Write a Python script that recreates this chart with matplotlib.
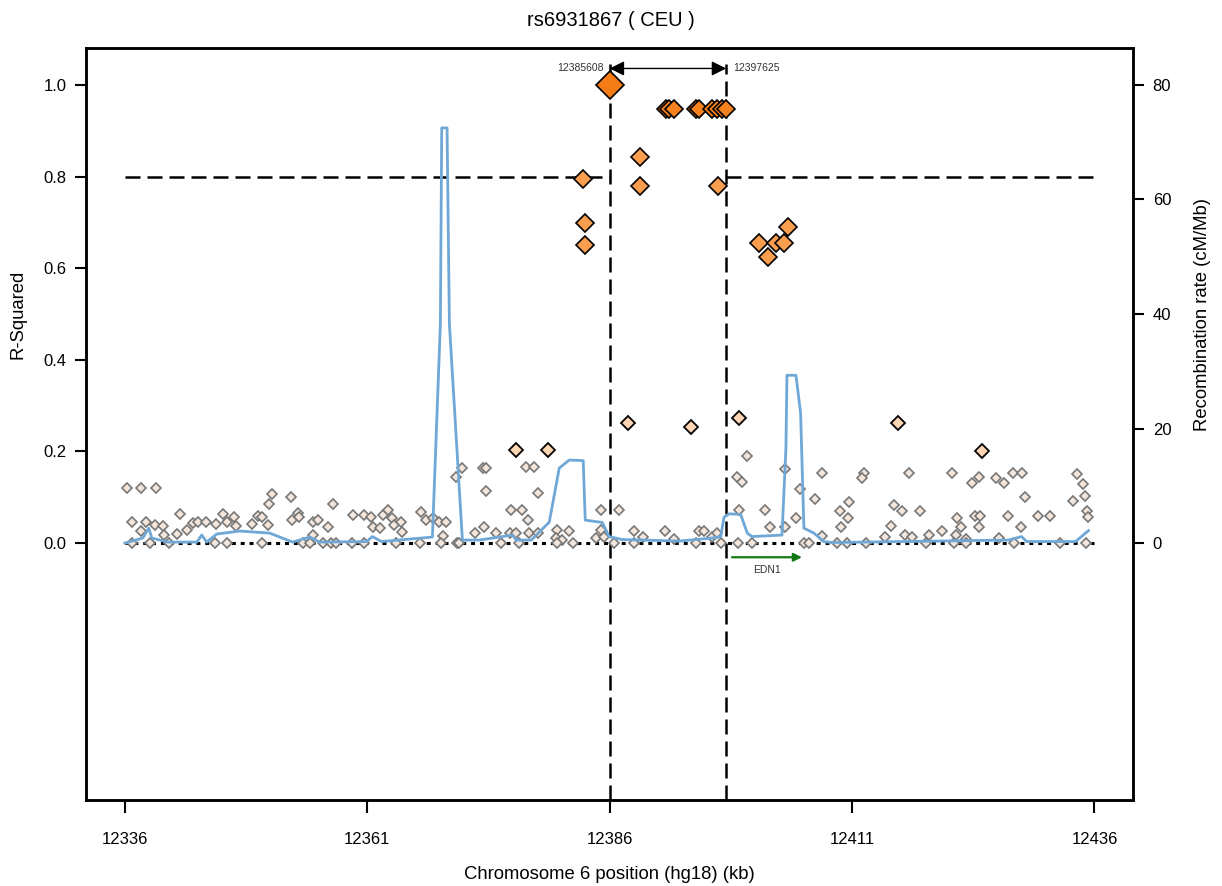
import matplotlib
matplotlib.use('Agg')
import matplotlib.pyplot as plt

plt.rcParams['font.family'] = ['Liberation Sans', 'DejaVu Sans']

# SNP positions (kb) and r-squared with the lead SNP
lead_pos = 12385.608
right_pos = 12397.625

low_x = [12335.8, 12337.3, 12338.8, 12336.3, 12337.8, 12338.7, 12339.5, 12337.3, 12339.7, 12341.3,
         12341.0, 12342.0, 12342.6, 12343.2, 12344.0, 12345.0, 12345.7, 12346.1, 12346.9, 12347.1,
         12348.7, 12349.3, 12349.8, 12350.4, 12350.5, 12350.8, 12352.7, 12352.9, 12353.5, 12353.6,
         12355.0, 12355.5, 12355.0, 12356.6, 12357.1, 12359.1, 12360.3, 12361.0, 12361.2, 12361.9,
         12362.2, 12362.7, 12363.2, 12363.4, 12364.1, 12364.2, 12366.2, 12366.7, 12367.4, 12368.0,
         12368.7, 12368.4, 12369.8, 12370.4, 12372.5, 12372.9, 12372.9, 12371.7, 12372.7, 12373.9,
         12375.4, 12376.6, 12377.2, 12377.0, 12377.8, 12378.2, 12375.3, 12376.0, 12377.3, 12378.2,
         12380.2, 12381.4, 12380.1, 12380.7, 12384.2, 12384.7, 12386.6, 12384.7, 12385.0, 12388.1,
         12389.0, 12391.3, 12392.2, 12394.8, 12395.3, 12396.2, 12396.7, 12398.9, 12399.8, 12398.7,
         12399.3, 12401.6, 12402.1, 12403.7, 12403.7, 12404.8, 12405.2, 12406.8, 12407.5, 12407.5,
         12409.4, 12410.2, 12410.3, 12409.5, 12411.8, 12411.6, 12414.0, 12414.6, 12414.9, 12415.8,
         12416.1, 12416.5, 12416.8, 12417.6, 12418.5, 12419.9, 12420.9, 12421.3, 12421.4, 12421.8,
         12422.4, 12423.0, 12423.7, 12423.3, 12423.8, 12423.7, 12425.5, 12425.8, 12426.3, 12426.7,
         12427.2, 12428.0, 12428.1, 12428.4, 12429.8, 12431.0, 12433.4, 12433.8, 12434.4, 12434.6,
         12434.8, 12434.9,
         12336.3, 12338.2, 12340.2, 12344.9, 12346.1, 12349.8, 12354.0, 12354.7, 12356.0, 12356.9,
         12357.4, 12359.0, 12360.3, 12363.6, 12366.0, 12368.2, 12369.9, 12370.1, 12374.4, 12376.3,
         12380.2, 12381.8, 12386.1, 12388.1, 12394.5, 12397.1, 12398.8, 12400.3, 12405.6, 12406.2,
         12409.1, 12410.1, 12412.0, 12418.2, 12421.1, 12422.4, 12427.3, 12432.1, 12434.7]
low_r2 = [0.120, 0.120, 0.120, 0.046, 0.046, 0.039, 0.037, 0.026, 0.017, 0.063,
          0.020, 0.028, 0.043, 0.046, 0.046, 0.041, 0.063, 0.045, 0.057, 0.037,
          0.041, 0.059, 0.057, 0.039, 0.086, 0.108, 0.100, 0.050, 0.065, 0.057,
          0.046, 0.050, 0.017, 0.036, 0.086, 0.061, 0.061, 0.057, 0.036, 0.032,
          0.061, 0.073, 0.054, 0.039, 0.046, 0.025, 0.068, 0.050, 0.054, 0.045,
          0.046, 0.016, 0.144, 0.163, 0.164, 0.163, 0.114, 0.022, 0.036, 0.022,
          0.072, 0.072, 0.051, 0.165, 0.165, 0.109, 0.021, 0.022, 0.021, 0.021,
          0.028, 0.026, 0.010, 0.007, 0.010, 0.073, 0.073, 0.028, 0.014, 0.027,
          0.014, 0.027, 0.008, 0.027, 0.027, 0.014, 0.021, 0.073, 0.191, 0.145,
          0.134, 0.072, 0.036, 0.161, 0.035, 0.054, 0.119, 0.096, 0.152, 0.015,
          0.070, 0.055, 0.089, 0.036, 0.152, 0.141, 0.014, 0.037, 0.083, 0.070,
          0.017, 0.152, 0.014, 0.070, 0.017, 0.027, 0.152, 0.017, 0.054, 0.036,
          0.009, 0.131, 0.144, 0.059, 0.059, 0.034, 0.143, 0.012, 0.131, 0.059,
          0.154, 0.036, 0.154, 0.100, 0.059, 0.059, 0.092, 0.150, 0.130, 0.102,
          0.070, 0.056,
          0.0, 0.0, 0.0, 0.0, 0.0, 0.0, 0.0, 0.0, 0.0, 0.0,
          0.0, 0.0, 0.0, 0.0, 0.0, 0.0, 0.0, 0.0, 0.0, 0.0,
          0.0, 0.0, 0.0, 0.0, 0.0, 0.0, 0.0, 0.0, 0.0, 0.0,
          0.0, 0.0, 0.0, 0.0, 0.0, 0.0, 0.0, 0.0, 0.0]

mid_x = [12375.9, 12379.3, 12387.55, 12393.97, 12398.94, 12415.35, 12424.0]
mid_r2 = [0.203, 0.203, 0.263, 0.253, 0.272, 0.262, 0.200]

high_x = [12388.75, 12388.78, 12382.91, 12383.08, 12383.08, 12396.82,
          12401.01, 12401.97, 12402.72, 12403.58, 12404.02]
high_r2 = [0.842, 0.780, 0.795, 0.698, 0.651, 0.780,
           0.656, 0.625, 0.656, 0.656, 0.689]

top_x = [12391.40, 12391.74, 12392.25, 12394.49, 12394.83, 12396.20, 12396.71, 12397.23, 12397.58]
top_r2 = [0.947, 0.947, 0.947, 0.947, 0.947, 0.947, 0.947, 0.947, 0.947]

# recombination rate (cM/Mb)
rec_x = [12335.61, 12337.46, 12338.08, 12338.39, 12340.04, 12343.03, 12343.54, 12344.06, 12345.08,
         12347.45, 12350.54, 12352.91, 12354.66, 12355.69, 12360.53, 12361.15, 12362.08, 12367.33,
         12368.15, 12368.29, 12368.84, 12369.08, 12370.42, 12372.17, 12375.57, 12375.98, 12377.53,
         12379.38, 12380.41, 12381.44, 12382.88, 12383.09, 12384.84, 12385.56, 12386.90, 12392.77,
         12396.17, 12397.06, 12397.40, 12397.92, 12399.12, 12399.80, 12400.29, 12403.38, 12403.79,
         12403.89, 12404.82, 12405.30, 12405.64, 12406.67, 12407.70, 12408.52, 12426.75, 12428.09,
         12428.61, 12433.65, 12434.99]
rec_rate = [0.0, 0.87, 2.6, 0.87, 0.17, 0.17, 1.4, 0.17, 1.57,
            2.1, 1.74, 0.17, 1.05, 0.17, 0.26, 1.13, 0.26, 1.05,
            38.3, 72.5, 72.5, 38.3, 0.52, 0.52, 1.4, 0.52, 0.52,
            3.66, 13.1, 14.5, 14.4, 4.0, 3.6, 1.13, 0.61, 0.35,
            0.87, 1.13, 4.5, 5.1, 5.0, 1.74, 1.13, 1.4, 16.7,
            29.3, 29.3, 22.7, 2.6, 1.74, 0.26, 0.09, 0.52, 1.13,
            0.26, 0.26, 2.18]

gene_name = 'EDN1'
gene_start = 12398.23
gene_end = 12405.44

x_ticks = [12335.608, 12360.608, 12385.608, 12410.608, 12435.608]
x_labels = ['12336', '12361', '12386', '12411', '12436']
r2_ticks = [0.0, 0.2, 0.4, 0.6, 0.8, 1.0]
r2_labels = ['0.0', '0.2', '0.4', '0.6', '0.8', '1.0']
rate_ticks = [0, 20, 40, 60, 80]

fig = plt.figure(figsize=(12.22, 8.86), dpi=100)
ax = fig.add_axes([0.0704, 0.097, 0.857, 0.849])
ax2 = ax.twinx()

x0, x1 = 12331.608, 12439.608
y0, y1 = -0.561, 1.081
ax.set_xlim(x0, x1)
ax.set_ylim(y0, y1)
ax2.set_ylim(y0 * 80, y1 * 80)

dash = (0, (6, 2.8))
ax.plot([x_ticks[0], lead_pos], [0.8, 0.8], color='black', lw=1.8, ls=dash, zorder=1)
ax.plot([right_pos, x_ticks[-1]], [0.8, 0.8], color='black', lw=1.8, ls=dash, zorder=1)
ax.vlines([lead_pos, right_pos], y0, 1.045, color='black', lw=1.8, linestyles=[dash], zorder=1)
ax.plot([x_ticks[0], x_ticks[-1]], [0, 0], color='black', lw=2.2, ls=(0, (1.3, 1.6)), zorder=1)

ax.plot(low_x, low_r2, ls='none', marker='D', ms=5.4, mfc='#f4e6db', mec='#777777', mew=1.2, zorder=2)
ax.plot(mid_x, mid_r2, ls='none', marker='D', ms=7.4, mfc='#fdd6b3', mec='black', mew=1.3, zorder=3)
ax.plot(high_x, high_r2, ls='none', marker='D', ms=9, mfc='#f99e4e', mec='black', mew=1.2, zorder=4)
ax.plot(top_x, top_r2, ls='none', marker='D', ms=9, mfc='#f5811f', mec='black', mew=1.2, zorder=5)
ax.plot([lead_pos], [1.0], ls='none', marker='D', ms=14, mfc='#f47c17', mec='black', mew=1.2, zorder=6)

# region arrow with bounds
ax.annotate('', xy=(lead_pos, 1.036), xytext=(right_pos, 1.036),
            arrowprops=dict(arrowstyle='<|-|>', color='black', lw=1.0, mutation_scale=22,
                            shrinkA=0, shrinkB=0), zorder=7)
ax.annotate(str(int(round(lead_pos * 1000))), xy=(lead_pos, 1.036), xytext=(-4, 0),
            textcoords='offset points', ha='right', va='center', fontsize=7.5, color='#333333')
ax.annotate(str(int(round(right_pos * 1000))), xy=(right_pos, 1.036), xytext=(5, 0),
            textcoords='offset points', ha='left', va='center', fontsize=7.5, color='#333333')

# gene
ax.annotate('', xy=(gene_end, -0.031), xytext=(gene_start, -0.031),
            arrowprops=dict(arrowstyle='-|>', color='#137a13', lw=1.6, mutation_scale=12,
                            shrinkA=0, shrinkB=0))
ax.text((gene_start + gene_end) / 2, -0.059, gene_name, ha='center', va='center',
        fontsize=7.5, color='#333333')

ax2.plot(rec_x, rec_rate, color='#6fa8d6', lw=2.0, zorder=2)

ax.set_xticks(x_ticks)
ax.set_xticklabels(x_labels)
ax.set_yticks(r2_ticks)
ax.set_yticklabels(r2_labels)
ax2.set_yticks(rate_ticks)

for a in (ax, ax2):
    for s in a.spines.values():
        s.set_linewidth(1.8)
    a.tick_params(width=1.5, length=8, labelsize=12, pad=6)
ax.tick_params(axis='x', length=9, pad=14)

ax.set_xlabel('Chromosome 6 position (hg18) (kb)', fontsize=13.3)
ax.set_ylabel('R-Squared', fontsize=13.3)
ax2.set_ylabel('Recombination rate (cM/Mb)', fontsize=13.3)
ax.yaxis.set_label_coords(-0.057, 0.646)
ax2.yaxis.set_label_coords(1.058, 0.646)
ax.xaxis.set_label_coords(0.5, -0.088)

fig.text(0.5, 0.977, 'rs6931867 ( CEU )', ha='center', va='center', fontsize=14.5)

fig.savefig('out.png', dpi=100)
